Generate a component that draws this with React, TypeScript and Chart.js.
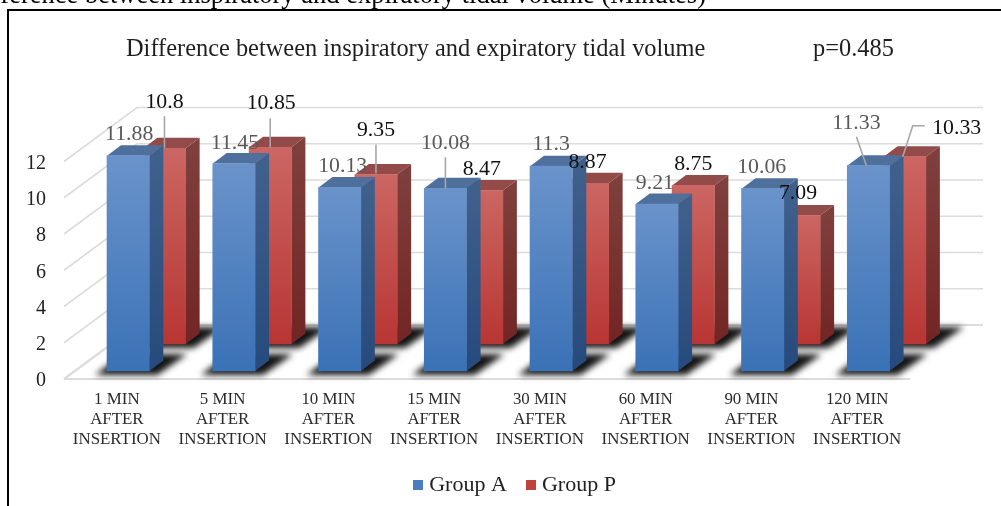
import React, { useEffect, useRef } from "react";
import { Chart, registerables } from "chart.js";

Chart.register(...registerables);

const categories = [
  ["1 MIN", "AFTER", "INSERTION"],
  ["5 MIN", "AFTER", "INSERTION"],
  ["10 MIN", "AFTER", "INSERTION"],
  ["15 MIN", "AFTER", "INSERTION"],
  ["30 MIN", "AFTER", "INSERTION"],
  ["60 MIN", "AFTER", "INSERTION"],
  ["90 MIN", "AFTER", "INSERTION"],
  ["120 MIN", "AFTER", "INSERTION"],
];
const groupA = [11.88, 11.45, 10.13, 10.08, 11.3, 9.21, 10.06, 11.33];
const groupP = [10.8, 10.85, 9.35, 8.47, 8.87, 8.75, 7.09, 10.33];
const captionText = "ference between inspiratory and expiratory tidal volume (Minutes)";
const titleText = "Difference between inspiratory and expiratory tidal volume";
const pValueText = "p=0.485";

const SERIF = '"Liberation Serif", "Times New Roman", serif';

// Label anchors relative to each bar's front-top centre.
const labelOffsetsA = [[1, -21], [1, -20], [3, -21], [0, -45], [0, -22], [-2, -21], [-1, -21], [-12, -42]];
const labelOffsetsP = [[0, -46], [1, -44], [0, -44], [0, -21], [0, -21], [0, -21], [-1, -22], [52, -28]];
const leadersA: Record<number, number[][]> = {
  3: [[0, -31], [0, 0]],
  7: [[-12, -29], [-2, 0]],
};
const leadersP: Record<number, number[][]> = {
  0: [[0, -32], [0, 0]],
  1: [[0, -29], [0, 0]],
  2: [[0, -30], [0, -1]],
  7: [[20, -31], [8, -31], [-2, 0]],
};

// 3D geometry
const WALL_DX = 73;
const WALL_DY = -54;
const BAR_DEPTH_X = 14;
const BAR_DEPTH_Y = -10.5;
const placement = [
  { dx: 11.3, dy: -8 },
  { dx: 47.6, dy: -35 },
];
const faces = [
  { frontTop: "#6a93cb", frontBottom: "#3a72b6", top: "#4f6f9c", sideTop: "#40608c", sideBottom: "#264a7c", legend: "#4a7cc0" },
  { frontTop: "#cb6662", frontBottom: "#b83633", top: "#934b49", sideTop: "#7f3f3c", sideBottom: "#722524", legend: "#c0423f" },
];

function swatch(color: string) {
  const c = document.createElement("canvas");
  c.width = 10;
  c.height = 10;
  const g = c.getContext("2d") as CanvasRenderingContext2D;
  g.fillStyle = color;
  g.fillRect(0, 0, 10, 10);
  return c;
}

function frontFill(seriesIndex: number) {
  return (ctx: any) => {
    const f = faces[seriesIndex];
    const yScale = ctx.chart.scales.y;
    if (ctx.raw === undefined || !yScale) return f.legend;
    const y0 = yScale.getPixelForValue(ctx.raw);
    const y1 = yScale.getPixelForValue(0);
    if (!Number.isFinite(y0) || !Number.isFinite(y1)) return f.legend;
    const g = ctx.chart.ctx.createLinearGradient(0, y0, 0, y1);
    g.addColorStop(0, f.frontTop);
    g.addColorStop(1, f.frontBottom);
    return g;
  };
}

const chart3d = {
  id: "chart3d",
  afterLayout(chart: any) {
    const lg = chart.legend;
    if (lg) {
      lg.left += 62;
      lg.right += 62;
    }
  },
  beforeDatasetsDraw(chart: any) {
    const { ctx, chartArea: a, scales } = chart;
    const y = scales.y;
    ctx.save();
    // frame
    ctx.strokeStyle = "#000";
    ctx.lineWidth = 2;
    ctx.beginPath();
    ctx.moveTo(8, 506);
    ctx.lineTo(8, 10);
    ctx.lineTo(1001, 10);
    ctx.stroke();
    // texts
    ctx.fillStyle = "#000";
    ctx.font = `26.5px ${SERIF}`;
    ctx.textAlign = "right";
    ctx.textBaseline = "alphabetic";
    ctx.fillText(captionText, 706, 3);
    ctx.fillStyle = "#1f1f1f";
    ctx.font = `24.4px ${SERIF}`;
    ctx.textAlign = "left";
    ctx.textBaseline = "middle";
    ctx.fillText(titleText, 126, 50);
    ctx.fillText(pValueText, 813, 50);
    // walls
    ctx.strokeStyle = "#dcdcdc";
    for (const t of y.ticks) {
      const p = y.getPixelForValue(t.value);
      ctx.lineWidth = t.value === 0 ? 2.2 : 1.6;
      ctx.beginPath();
      ctx.moveTo(a.left, p);
      ctx.lineTo(a.left + WALL_DX, p + WALL_DY);
      ctx.lineTo(a.right + WALL_DX, p + WALL_DY);
      ctx.stroke();
    }
    ctx.lineWidth = 2.2;
    ctx.beginPath();
    ctx.moveTo(a.left, a.bottom);
    ctx.lineTo(a.right, a.bottom);
    ctx.stroke();
    // floor shadows
    ctx.fillStyle = "rgba(20,20,20,1)";
    ctx.filter = "blur(3px)";
    [1, 0].forEach((di) => {
      const meta = chart.getDatasetMeta(di);
      const { dx, dy } = placement[di];
      meta.data.forEach((el: any) => {
        const l = el.x + dx - el.width / 2;
        const r = el.x + dx + el.width / 2;
        const b = el.base + dy;
        ctx.beginPath();
        ctx.moveTo(l - 12, b + 4);
        ctx.lineTo(r + 8, b + 4);
        ctx.lineTo(r + 38, b - 17);
        ctx.lineTo(l + 16, b - 17);
        ctx.closePath();
        ctx.fill();
      });
    });
    ctx.filter = "none";
    ctx.restore();
  },
  beforeDatasetDraw(chart: any, args: any) {
    const { ctx } = chart;
    const di = args.index;
    const f = faces[di];
    const { dx, dy } = placement[di];
    ctx.save();
    ctx.translate(dx, dy);
    args.meta.data.forEach((el: any) => {
      const l = el.x - el.width / 2;
      const r = el.x + el.width / 2;
      const g = ctx.createLinearGradient(0, el.y, 0, el.base);
      g.addColorStop(0, f.sideTop);
      g.addColorStop(1, f.sideBottom);
      ctx.fillStyle = g;
      ctx.beginPath();
      ctx.moveTo(r, el.y);
      ctx.lineTo(r + BAR_DEPTH_X, el.y + BAR_DEPTH_Y);
      ctx.lineTo(r + BAR_DEPTH_X, el.base + BAR_DEPTH_Y);
      ctx.lineTo(r, el.base);
      ctx.closePath();
      ctx.fill();
      ctx.fillStyle = f.top;
      ctx.beginPath();
      ctx.moveTo(l, el.y);
      ctx.lineTo(l + BAR_DEPTH_X, el.y + BAR_DEPTH_Y);
      ctx.lineTo(r + BAR_DEPTH_X, el.y + BAR_DEPTH_Y);
      ctx.lineTo(r, el.y);
      ctx.closePath();
      ctx.fill();
    });
  },
  afterDatasetDraw(chart: any) {
    chart.ctx.restore();
  },
  afterDatasetsDraw(chart: any) {
    const { ctx } = chart;
    ctx.save();
    ctx.textAlign = "center";
    ctx.textBaseline = "middle";
    ctx.font = `21.8px ${SERIF}`;
    const sets = [
      { off: labelOffsetsA, lead: leadersA, color: "#595959" },
      { off: labelOffsetsP, lead: leadersP, color: "#111111" },
    ];
    sets.forEach((s, di) => {
      const meta = chart.getDatasetMeta(di);
      const { dx, dy } = placement[di];
      const values = chart.data.datasets[di].data;
      meta.data.forEach((el: any, i: number) => {
        const ax = el.x + dx;
        const ay = el.y + dy;
        const pts = s.lead[i];
        if (pts) {
          ctx.strokeStyle = "#a6a6a6";
          ctx.lineWidth = 1.6;
          ctx.beginPath();
          pts.forEach((p, k) => (k ? ctx.lineTo(ax + p[0], ay + p[1]) : ctx.moveTo(ax + p[0], ay + p[1])));
          ctx.stroke();
        }
        ctx.fillStyle = s.color;
        ctx.fillText(String(values[i]), ax + s.off[i][0], ay + s.off[i][1]);
      });
    });
    ctx.restore();
  },
};

export default function App() {
  const ref = useRef<HTMLCanvasElement>(null);
  useEffect(() => {
    const chart = new Chart(ref.current as HTMLCanvasElement, {
      type: "bar",
      data: {
        labels: categories as any,
        datasets: [
          { label: "Group A", data: groupA, backgroundColor: frontFill(0) as any, clip: false as any },
          { label: "Group P", data: groupP, backgroundColor: frontFill(1) as any, clip: false as any },
        ],
      },
      options: {
        responsive: false,
        animation: false,
        devicePixelRatio: 1,
        layout: { padding: { top: 161.5, right: 91, left: 0, bottom: 0 } },
        datasets: { bar: { grouped: false, barThickness: 42.3 } } as any,
        scales: {
          x: {
            grid: { display: false, drawTicks: false },
            border: { display: false },
            afterFit: (s: any) => { s.height = 71; },
            ticks: {
              autoSkip: false,
              maxRotation: 0,
              padding: 11,
              color: "#2b2b2b",
              font: { family: SERIF, size: 16.9, lineHeight: 20 / 16.9 },
            },
          },
          y: {
            min: 0,
            max: 12,
            grid: { display: false, drawTicks: false },
            border: { display: false },
            afterFit: (s: any) => { s.width = 64; },
            ticks: {
              stepSize: 2,
              padding: 18,
              labelOffset: 2,
              color: "#222222",
              font: { family: SERIF, size: 20 },
            },
          },
        },
        plugins: {
          title: { display: false },
          tooltip: { enabled: false },
          legend: {
            display: true,
            position: "bottom",
            labels: {
              usePointStyle: true,
              pointStyleWidth: 0.1,
              boxHeight: 10,
              padding: 24,
              color: "#222222",
              font: { family: SERIF, size: 22 },
              generateLabels: (c: any) =>
                Chart.defaults.plugins.legend.labels.generateLabels(c).map((item: any, i: number) => ({
                  ...item,
                  pointStyle: swatch(faces[i].legend),
                })),
            },
          },
        },
      },
      plugins: [chart3d],
    });
    return () => chart.destroy();
  }, []);
  return (
    <canvas
      ref={ref}
      width={1001}
      height={506}
      style={{ position: "fixed", left: 0, top: 0, display: "block", width: 1001, height: 506 }}
    />
  );
}
